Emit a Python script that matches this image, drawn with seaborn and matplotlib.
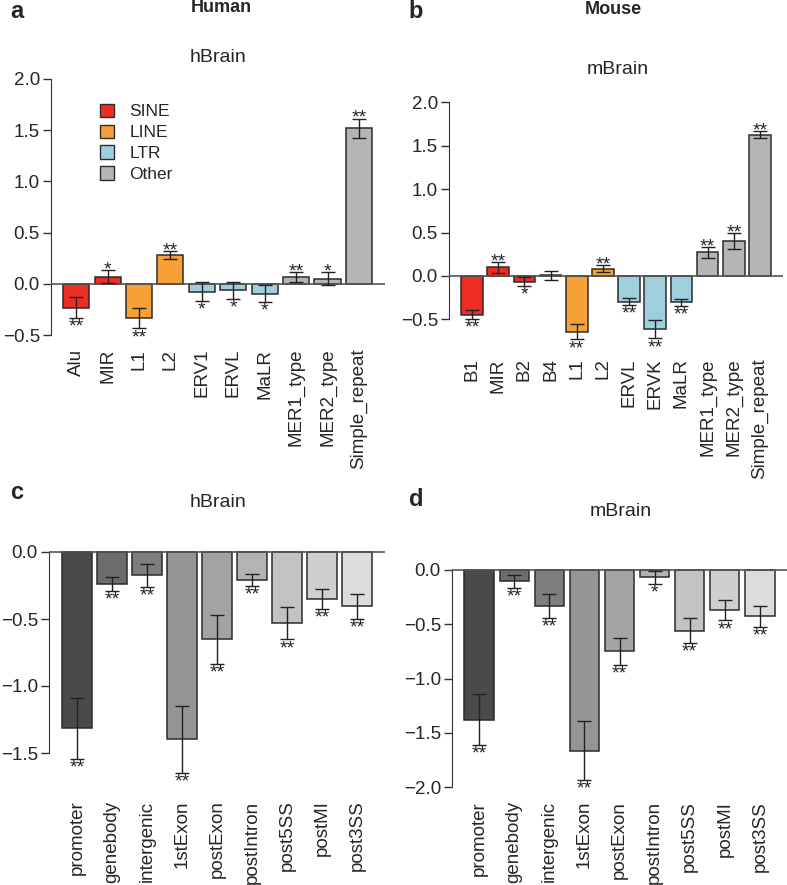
import numpy as np
import pandas as pd
import matplotlib
matplotlib.use('Agg')
import matplotlib.pyplot as plt
import seaborn as sns
from matplotlib.patches import Patch

sns.set_style('ticks')
plt.rcParams['font.family'] = ['Liberation Sans', 'DejaVu Sans']

# ---- data ----
# a: human repeats, hBrain
h_rep_names = ['Alu', 'MIR', 'L1', 'L2', 'ERV1', 'ERVL', 'MaLR', 'MER1_type', 'MER2_type', 'Simple_repeat']
h_rep_family = ['SINE', 'SINE', 'LINE', 'LINE', 'LTR', 'LTR', 'LTR', 'Other', 'Other', 'Other']
h_rep_vals = [-0.23, 0.072, -0.335, 0.283, -0.075, -0.062, -0.094, 0.068, 0.052, 1.518]
h_rep_err = [0.10, 0.065, 0.097, 0.037, 0.09, 0.08, 0.08, 0.045, 0.063, 0.095]
h_rep_sig = ['**', '*', '**', '**', '*', '*', '*', '**', '*', '**']

# b: mouse repeats, mBrain
m_rep_names = ['B1', 'MIR', 'B2', 'B4', 'L1', 'L2', 'ERVL', 'ERVK', 'MaLR', 'MER1_type', 'MER2_type', 'Simple_repeat']
m_rep_family = ['SINE', 'SINE', 'SINE', 'SINE', 'LINE', 'LINE', 'LTR', 'LTR', 'LTR', 'Other', 'Other', 'Other']
m_rep_vals = [-0.444, 0.10, -0.065, 0.008, -0.64, 0.084, -0.295, -0.613, -0.303, 0.272, 0.402, 1.628]
m_rep_err = [0.053, 0.063, 0.048, 0.053, 0.09, 0.038, 0.042, 0.105, 0.04, 0.063, 0.088, 0.037]
m_rep_sig = ['**', '**', '*', '', '**', '**', '**', '**', '**', '**', '**', '**']

# c, d: gene regions
region_names = ['promoter', 'genebody', 'intergenic', '1stExon', 'postExon', 'postIntron', 'post5SS', 'postMI', 'post3SS']
h_reg_vals = [-1.316, -0.236, -0.174, -1.396, -0.652, -0.206, -0.532, -0.348, -0.405]
h_reg_err = [0.23, 0.053, 0.087, 0.25, 0.183, 0.044, 0.12, 0.075, 0.093]
h_reg_sig = ['**'] * 9
m_reg_vals = [-1.378, -0.105, -0.33, -1.665, -0.748, -0.065, -0.56, -0.372, -0.428]
m_reg_err = [0.237, 0.057, 0.11, 0.27, 0.125, 0.06, 0.114, 0.092, 0.094]
m_reg_sig = ['**', '**', '**', '**', '**', '*', '**', '**', '**']

family_colors = {'SINE': '#ee2e24', 'LINE': '#f7a035', 'LTR': '#9fcfdc', 'Other': '#b5b5b8'}
region_grays = ['#4a4a4c', '#6d6d70', '#7e7e80', '#959597', '#a3a3a5',
                '#b3b3b5', '#c2c2c4', '#cfcfd1', '#dcdcde']

W, H = 787, 885
fig = plt.figure(figsize=(W / 100, H / 100), dpi=100)


def add_ax(left, right, top, bottom):
    return fig.add_axes([left / W, 1 - bottom / H, (right - left) / W, (bottom - top) / H])


def draw(ax, names, vals, errs, sigs, hue, palette, xlim, ylim, spine, yticks, pad):
    df = pd.DataFrame({'name': names, 'value': vals, 'hue': hue})
    sns.barplot(data=df, x='name', y='value', hue='hue', palette=palette, dodge=False,
                width=0.83, order=names, errorbar=None, edgecolor='#2b2b2b', saturation=1,
                linewidth=1.1, legend=False, ax=ax)
    x = np.arange(len(names))
    ax.errorbar(x, vals, yerr=errs, fmt='none', ecolor='#222222', elinewidth=1,
                capsize=5, capthick=1, zorder=4, clip_on=False)
    for xi, v, e, s in zip(x, vals, errs, sigs):
        if not s:
            continue
        if v >= 0:
            ax.annotate(s, (xi, v + e), xytext=(0, -3), textcoords='offset points',
                        ha='center', va='baseline', fontsize=14, annotation_clip=False)
        else:
            ax.annotate(s, (xi, v - e), xytext=(0, -0.5), textcoords='offset points',
                        ha='center', va='top', fontsize=14, annotation_clip=False)
    ax.axhline(0, color='#555555', lw=1.2, zorder=3)
    ax.set_xlim(*xlim)
    ax.set_ylim(*ylim)
    for sp in ['top', 'right', 'bottom']:
        ax.spines[sp].set_visible(False)
    ax.spines['left'].set_bounds(*spine)
    ax.spines['left'].set_color('#333333')
    ax.set_yticks(yticks)
    ax.set_yticklabels([f'{t:.1f}'.replace('-', '\u2212') for t in yticks])
    ax.tick_params(axis='y', length=6, width=1, color='#333333', labelsize=13.5, pad=2)
    ax.tick_params(axis='x', length=0, labelsize=13.5, pad=pad, rotation=90)
    ax.set_xlabel('')
    ax.set_ylabel('')


# panel a
ax_a = add_ax(51, 385, 284 - 2.05 * 102.6, 284 + 0.55 * 102.6)
draw(ax_a, h_rep_names, h_rep_vals, h_rep_err, h_rep_sig, h_rep_family, family_colors,
     (-0.8, 9.83), (-0.55, 2.05), (-0.5, 2.0), [-0.5, 0.0, 0.5, 1.0, 1.5, 2.0], 6)
handles = [Patch(facecolor=family_colors[k], edgecolor='#2b2b2b', linewidth=1) for k in family_colors]
ax_a.legend(handles, list(family_colors), loc='upper left', bbox_to_anchor=(91 / W, 1 - 95 / H),
            bbox_transform=fig.transFigure, frameon=False, fontsize=12.5, handlelength=0.8,
            handleheight=0.8, handletextpad=0.9, labelspacing=0.3, borderpad=0)

# panel b
ax_b = add_ax(449, 783, 276 - 2.05 * 86.8, 276 + 0.75 * 86.8)
draw(ax_b, m_rep_names, m_rep_vals, m_rep_err, m_rep_sig, m_rep_family, family_colors,
     (-0.88, 11.88), (-0.75, 2.05), (-0.5, 2.0), [-0.5, 0.0, 0.5, 1.0, 1.5, 2.0], 12.5)

# panel c
ax_c = add_ax(49, 385, 552 - 0.03 * 134, 552 + 1.72 * 134)
draw(ax_c, region_names, h_reg_vals, h_reg_err, h_reg_sig, region_names, region_grays,
     (-0.8, 8.8), (-1.72, 0.03), (-1.5, 0.0), [-1.5, -1.0, -0.5, 0.0], 13)

# panel d
ax_d = add_ax(452, 787, 570 - 0.03 * 108.5, 570 + 2.05 * 108.5)
draw(ax_d, region_names, m_reg_vals, m_reg_err, m_reg_sig, region_names, region_grays,
     (-0.77, 8.77), (-2.05, 0.03), (-2.0, 0.0), [-2.0, -1.5, -1.0, -0.5, 0.0], 6)

# titles and panel letters
fig.text(221 / W, 1 - 8 / H, 'Human', ha='center', va='center', fontsize=13, fontweight='bold')
fig.text(613 / W, 1 - 10 / H, 'Mouse', ha='center', va='center', fontsize=13, fontweight='bold')
fig.text(218 / W, 1 - 58 / H, 'hBrain', ha='center', va='center', fontsize=14)
fig.text(618 / W, 1 - 70 / H, 'mBrain', ha='center', va='center', fontsize=14)
fig.text(218 / W, 1 - 503 / H, 'hBrain', ha='center', va='center', fontsize=14)
fig.text(621 / W, 1 - 511 / H, 'mBrain', ha='center', va='center', fontsize=14)
for lab, x, y in [('a', 17, 12), ('b', 416, 12), ('c', 17, 493), ('d', 416, 500)]:
    fig.text(x / W, 1 - y / H, lab, ha='center', va='center', fontsize=17, fontweight='bold')

fig.savefig('out.png', dpi=100)
